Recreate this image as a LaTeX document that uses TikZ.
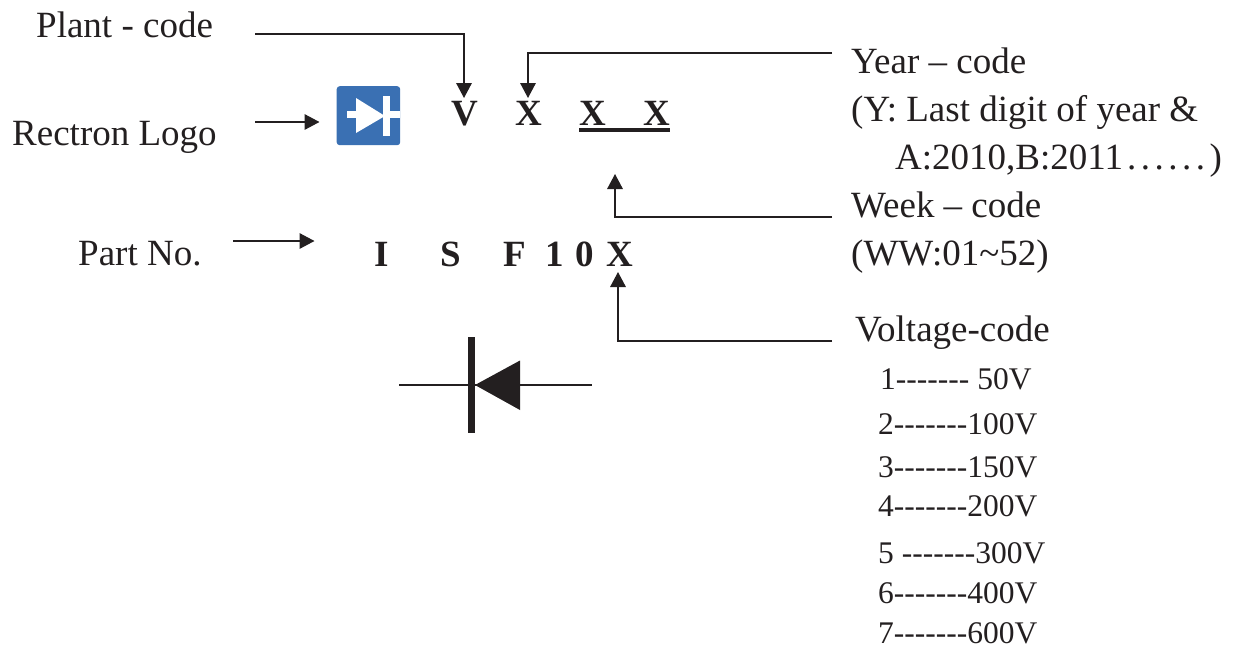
\documentclass[tikz,border=0pt]{standalone}
\usepackage{fontspec}
\setmainfont{Liberation Serif}
\usetikzlibrary{arrows.meta}
\definecolor{ink}{HTML}{231F20}
\definecolor{logoblue}{HTML}{3A70B3}
\newcommand{\hyrun}{-{}-{}-{}-{}-{}-{}-}
\newcommand{\dotk}{.\kern4.5pt}
\tikzset{
  lbl/.style={anchor=base west,inner sep=0pt,text=ink,font=\fontsize{37}{37}\selectfont},
  volt/.style={anchor=base west,inner sep=0pt,text=ink,font=\fontsize{31.5}{32}\selectfont},
  code/.style={anchor=base,inner sep=2pt,text=ink,font=\fontsize{37}{37}\selectfont\bfseries},
  conn/.style={draw=ink,line width=1.6pt,-{Triangle[length=15pt,width=15.5pt]}},
}
\begin{document}
\begin{tikzpicture}[x=1pt,y=-1pt]
\useasboundingbox (0,0) rectangle (1240,648);
% labels
\node[lbl] (plant) at (36,37) {Plant - code};
\node[lbl] (logo) at (12,145) {Rectron Logo};
\node[lbl] (part) at (78,265) {Part No.};
\node[lbl] (year) at (851,73) {Year – code};
\node[lbl] (yearA) at (851,121) {(Y: Last digit of year \&};
\node[lbl] (yearB) at (895,169) {A:2010,B:2011\kern4pt\dotk\dotk\dotk\dotk\dotk\dotk)};
\node[lbl] (week) at (851,217) {Week – code};
\node[lbl] (weekA) at (851,265) {(WW:01\textasciitilde 52)};
\node[lbl] (volt) at (855,341) {Voltage-code};
\node[volt] (v1) at (880,389) {1\hyrun{} 50V};
\node[volt] (v2) at (878,434) {2\hyrun{}100V};
\node[volt] (v3) at (878,477) {3\hyrun{}150V};
\node[volt] (v4) at (878,516) {4\hyrun{}200V};
\node[volt] (v5) at (878,563) {5 \hyrun{}300V};
\node[volt] (v6) at (878,603) {6\hyrun{}400V};
\node[volt] (v7) at (878,643) {7\hyrun{}600V};
% marking codes
\node[code] (cV) at (465,125) {V};
\node[code] (cX1) at (528.5,125) {X};
\node[code] (cX2) at (593,125) {X};
\node[code] (cX3) at (657,125) {X};
\node[code] (pI) at (381.5,266) {I};
\node[code] (pS) at (451,266) {S};
\node[code] (pF) at (514.5,266) {F};
\node[code] (p1) at (555,266) {1};
\node[code] (p0) at (585,266) {0};
\node[code] (pX) at (619.5,266) {X};
\draw[draw=ink,line width=3.5pt] (579,130) -- (670,130);
% logo
\node[draw=none,fill=logoblue,rounded corners=3pt,minimum width=63.5pt,minimum height=59pt,inner sep=0pt,anchor=north west] (rectron) at (336.5,86) {};
\fill[white] (356,98) -- (385,116) -- (356,133) -- cycle;
\fill[white] (383,95.5) rectangle (390,135.5);
\fill[white] (347,111) rectangle (357,118);
\fill[white] (390,110.5) rectangle (400,118);
% connector anchors
\coordinate (aPlant) at (255,34);
\coordinate (aLogoS) at (255,122);
\coordinate (aLogoE) at (319.5,122);
\coordinate (aPartS) at (233,241);
\coordinate (aPartE) at (314.5,241);
\coordinate (aYear) at (832,53);
\coordinate (aWeek) at (832,217);
\coordinate (aWeekE) at (615,174);
\coordinate (aVolt) at (832,341);
\coordinate (aVoltE) at (618,272);
\coordinate (aPlantE) at (464,98);
\coordinate (aYearE) at (528,98);
\draw[conn] (aPlant) -| (aPlantE);
\draw[conn] (aYear) -| (aYearE);
\draw[conn] (aWeek) -| (aWeekE);
\draw[conn] (aVolt) -| (aVoltE);
\draw[conn] (aLogoS) -- (aLogoE);
\draw[conn] (aPartS) -- (aPartE);
% diode symbol
\coordinate (dL) at (399,385);
\coordinate (dR) at (592,385);
\draw[draw=ink,line width=1.6pt] (dL) -- (dR);
\fill[ink] (467.7,337) rectangle (475.3,433);
\fill[ink] (475,385) -- (520,360.5) -- (520,410) -- cycle;
\end{tikzpicture}
\end{document}
